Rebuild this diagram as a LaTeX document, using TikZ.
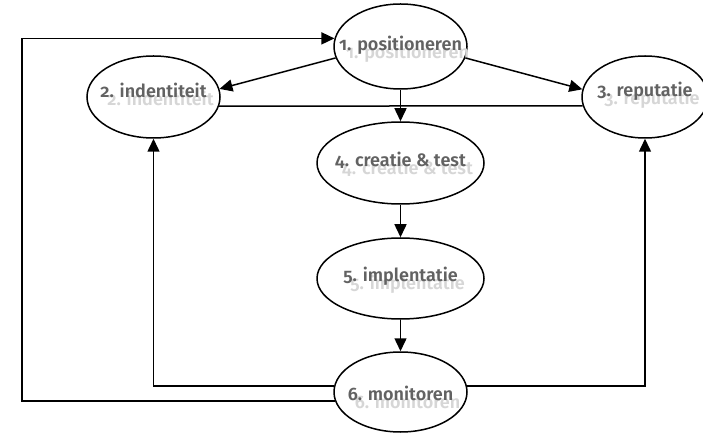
\documentclass[tikz,border=0pt]{standalone}
\usepackage{fontspec}
\newfontfamily\stagefont{Fira Sans SemiBold}[Numbers=OldStyle]
\usetikzlibrary{shapes.geometric,arrows.meta}
\definecolor{textgray}{HTML}{626262}
\definecolor{shadowgray}{HTML}{D6D6D6}
% label with its light offset copy; optional argument lowers both
\newcommand{\shadowed}[2][0pt]{\makebox[0pt]{\raisebox{-#1}[0pt][0pt]{\rlap{\kern7pt\raisebox{-8pt}[0pt][0pt]{\color{shadowgray}#2}}#2}}}

\begin{document}
\begin{tikzpicture}[x=1pt,y=-1pt,line width=1.5pt,
  stage/.style={draw,ellipse,inner sep=0pt,font=\stagefont\fontsize{18}{20}\selectfont,text=textgray},
  arr/.style={-{Triangle[length=13pt,width=12pt]}}]
\useasboundingbox (0,0) rectangle (703,435);
% stages
\node[stage,minimum width=133pt,minimum height=85pt] (n1) at (400.5,46.5) {\shadowed[4pt]{1. positioneren}};
\node[stage,minimum width=133pt,minimum height=82pt] (n2) at (153.5,97) {\shadowed[1pt]{2. indentiteit}};
\node[stage,minimum width=126pt,minimum height=82pt] (n3) at (645,97) {\shadowed[0pt]{3. reputatie}};
\node[stage,minimum width=167pt,minimum height=82pt] (n4) at (400.5,163) {\shadowed[4pt]{4. creatie \& test}};
\node[stage,minimum width=167pt,minimum height=81pt] (n5) at (400.5,278.5) {\shadowed[3pt]{5. implentatie}};
\node[stage,minimum width=133pt,minimum height=80pt] (n6) at (400.5,392) {\shadowed[8pt]{6. monitoren}};
\coordinate (loop) at (22,220);

% connectors
\draw[arr] (n1.190) -- (n2.7);
\draw[arr] (n1.-10) -- (n3.173);
\draw (n2.-8) -- (n3.188);
\draw[arr] (n1) -- (n4);
\draw[arr] (n4) -- (n5);
\draw[arr] (n5) -- (n6);
\draw[arr] (n6.175) -| (n2.south);
\draw[arr] (n6.5) -| (n3.south);
\draw[arr] (n6.188) -| (loop) |- (n1.173);
\end{tikzpicture}
\end{document}
